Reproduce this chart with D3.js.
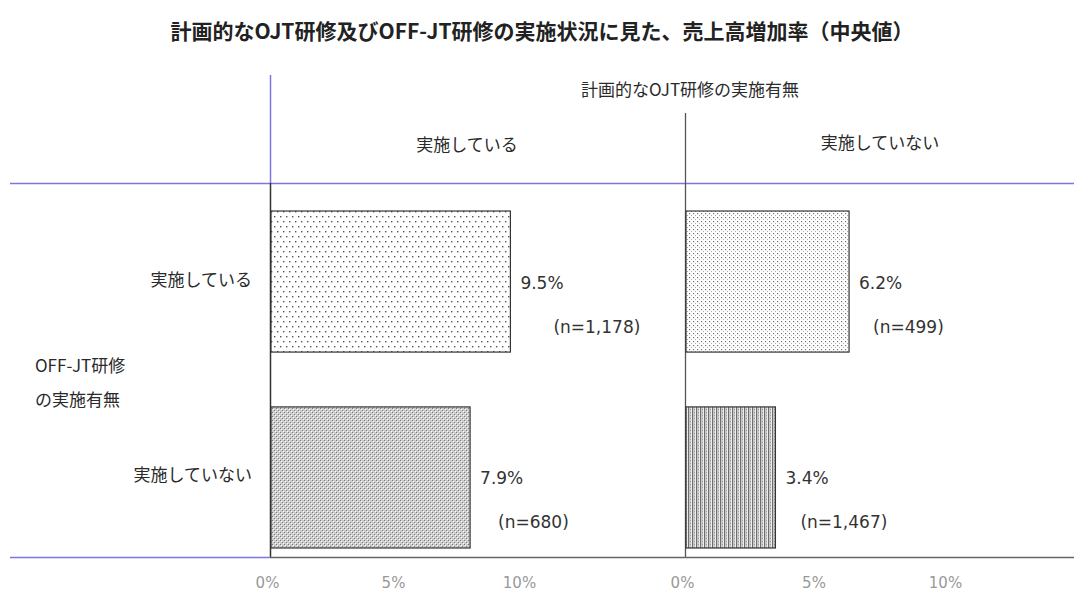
<!DOCTYPE html>
<html><head><meta charset="utf-8">
<script src="https://cdn.jsdelivr.net/npm/d3@7/dist/d3.min.js"></script>
<style>
body{margin:0;background:#fff;}
text{font-family:"Noto Sans CJK JP","Noto Sans",sans-serif;}
</style></head>
<body><svg id="c" width="1074" height="594"></svg>
<script>
const title = "計画的なOJT研修及びOFF-JT研修の実施状況に見た、売上高増加率（中央値）";
const colGroupTitle = "計画的なOJT研修の実施有無";
const colCategories = ["実施している", "実施していない"];
const rowGroupTitle = ["OFF-JT研修", "の実施有無"];
const rowCategories = ["実施している", "実施していない"];
const valuesOJTYes = [9.5, 7.9];
const valuesOJTNo = [6.2, 3.4];
const countsOJTYes = ["1,178", "680"];
const countsOJTNo = ["499", "1,467"];
const tickValues = [0, 5, 10];
const tickLabels = ["0%", "5%", "10%"];

const svg = d3.select("#c");
const defs = svg.append("defs");
const numFont = '"DejaVu Sans","Noto Sans",sans-serif';
const txt = "#2a2a2a";

function pat(id, w, h, draw){
  const p = defs.append("pattern").attr("id", id).attr("patternUnits","userSpaceOnUse")
    .attr("width", w).attr("height", h);
  p.append("rect").attr("width", w).attr("height", h).attr("fill", "#fff");
  draw(p);
}
pat("p1", 6, 10, p => {
  p.append("rect").attr("x",1).attr("y",1).attr("width",1.4).attr("height",1.4).attr("fill","#555");
  p.append("rect").attr("x",4).attr("y",6).attr("width",1.4).attr("height",1.4).attr("fill","#555");
});
pat("p2", 4, 4, p => {
  p.append("rect").attr("width",4).attr("height",4).attr("fill","#cdcdcd");
  p.append("rect").attr("x",0).attr("y",0).attr("width",1).attr("height",1).attr("fill","#7a7a7a");
  p.append("rect").attr("x",2).attr("y",2).attr("width",1).attr("height",1).attr("fill","#7a7a7a");
  p.append("rect").attr("x",1).attr("y",1).attr("width",1).attr("height",1).attr("fill","#fff");
  p.append("rect").attr("x",3).attr("y",3).attr("width",1).attr("height",1).attr("fill","#fff");
});
pat("p3", 4, 4, p => {
  p.append("rect").attr("x",1).attr("y",1).attr("width",1.2).attr("height",1.2).attr("fill","#777");
  p.append("rect").attr("x",3).attr("y",3).attr("width",1).attr("height",1).attr("fill","#aaa");
});
pat("p4", 4, 3, p => {
  p.append("rect").attr("width",4).attr("height",3).attr("fill","#c8c8c8");
  p.append("rect").attr("x",0).attr("y",0).attr("width",1).attr("height",3).attr("fill","#6e6e6e");
  p.append("rect").attr("x",2).attr("y",1).attr("width",1).attr("height",1).attr("fill","#999");
  p.append("rect").attr("x",3).attr("y",0).attr("width",1).attr("height",3).attr("fill","#eee");
});
const patterns = [["p1","p2"],["p3","p4"]];

svg.append("text").attr("x", 542).attr("y", 39).attr("text-anchor","middle")
  .attr("font-size", 21).attr("font-weight", "bold").attr("fill","#222").text(title);

const xLeft = d3.scaleLinear().domain([0,10]).range([271, 523]);
const xRight = d3.scaleLinear().domain([0,10]).range([686, 949]);
const xs = [xLeft, xRight];
const y = d3.scaleBand().domain(rowCategories).range([183, 576]).paddingInner(0.28).paddingOuter(0.143);

const purple = "#7c76e0";
svg.append("line").attr("x1",10).attr("x2",1074).attr("y1",183.5).attr("y2",183.5).attr("stroke",purple).attr("stroke-width",1.3);
svg.append("line").attr("x1",270.5).attr("x2",270.5).attr("y1",75).attr("y2",183).attr("stroke",purple).attr("stroke-width",1.5);
svg.append("line").attr("x1",270.5).attr("x2",270.5).attr("y1",183).attr("y2",558).attr("stroke","#333").attr("stroke-width",1.5);
svg.append("line").attr("x1",685.5).attr("x2",685.5).attr("y1",113).attr("y2",558).attr("stroke","#555").attr("stroke-width",1.3);
svg.append("line").attr("x1",10).attr("x2",270).attr("y1",557.5).attr("y2",557.5).attr("stroke",purple).attr("stroke-width",1.5);
svg.append("line").attr("x1",270).attr("x2",1074).attr("y1",557.5).attr("y2",557.5).attr("stroke","#666").attr("stroke-width",1.5);

svg.append("text").attr("x", 690).attr("y", 96).attr("text-anchor","middle").attr("font-size",17).attr("fill",txt).text(colGroupTitle);
svg.append("text").attr("x", 467).attr("y", 151).attr("text-anchor","middle").attr("font-size",17).attr("fill",txt).text(colCategories[0]);
svg.append("text").attr("x", 880).attr("y", 149).attr("text-anchor","middle").attr("font-size",17).attr("fill",txt).text(colCategories[1]);

rowCategories.forEach((r,i) => {
  svg.append("text").attr("x", 252).attr("y", y(r) + y.bandwidth()/2 + 4).attr("text-anchor","end")
    .attr("font-size",17).attr("fill",txt).text(r);
});
svg.append("text").attr("x", 35).attr("y", 372).attr("font-size",17).attr("fill",txt).text(rowGroupTitle[0]);
svg.append("text").attr("x", 35).attr("y", 406).attr("font-size",17).attr("fill",txt).text(rowGroupTitle[1]);

const panels = [
  {vals: valuesOJTYes, ns: countsOJTYes, nDx: [43, 28]},
  {vals: valuesOJTNo, ns: countsOJTNo, nDx: [24, 25]}
];
panels.forEach((p, ci) => {
  const x = xs[ci];
  const g = svg.append("g");
  g.selectAll("rect").data(p.vals).join("rect")
    .attr("x", x(0)).attr("y", (d,i) => y(rowCategories[i]))
    .attr("width", d => x(d) - x(0)).attr("height", y.bandwidth())
    .attr("fill", (d,i) => `url(#${patterns[ci][i]})`)
    .attr("stroke", "#333").attr("stroke-width", 1.2);
  g.selectAll("text.v").data(p.vals).join("text").attr("class","v")
    .attr("x", d => x(d) + 10).attr("y", (d,i) => y(rowCategories[i]) + y.bandwidth()*0.5 + 7)
    .attr("font-size", 17).style("font-family", numFont).attr("fill","#333").text(d => d.toFixed(1) + "%");
  g.selectAll("text.n").data(p.ns).join("text").attr("class","n")
    .attr("x", (d,i) => x(p.vals[i]) + p.nDx[i]).attr("y", (d,i) => y(rowCategories[i]) + y.bandwidth()*0.5 + 51)
    .attr("font-size", 17).style("font-family", numFont).attr("fill","#333").text(d => "(n=" + d + ")");
  const ax = d3.axisBottom(x).tickValues(tickValues).tickFormat((d,i) => tickLabels[i]).tickSize(0).tickPadding(0);
  const ag = svg.append("g").attr("transform","translate(-4,588)").call(ax);
  ag.select(".domain").remove();
  ag.selectAll("text").attr("font-size",15).attr("fill","#999").attr("dy", 0)
    .style("font-family", numFont);
});
</script></body></html>
